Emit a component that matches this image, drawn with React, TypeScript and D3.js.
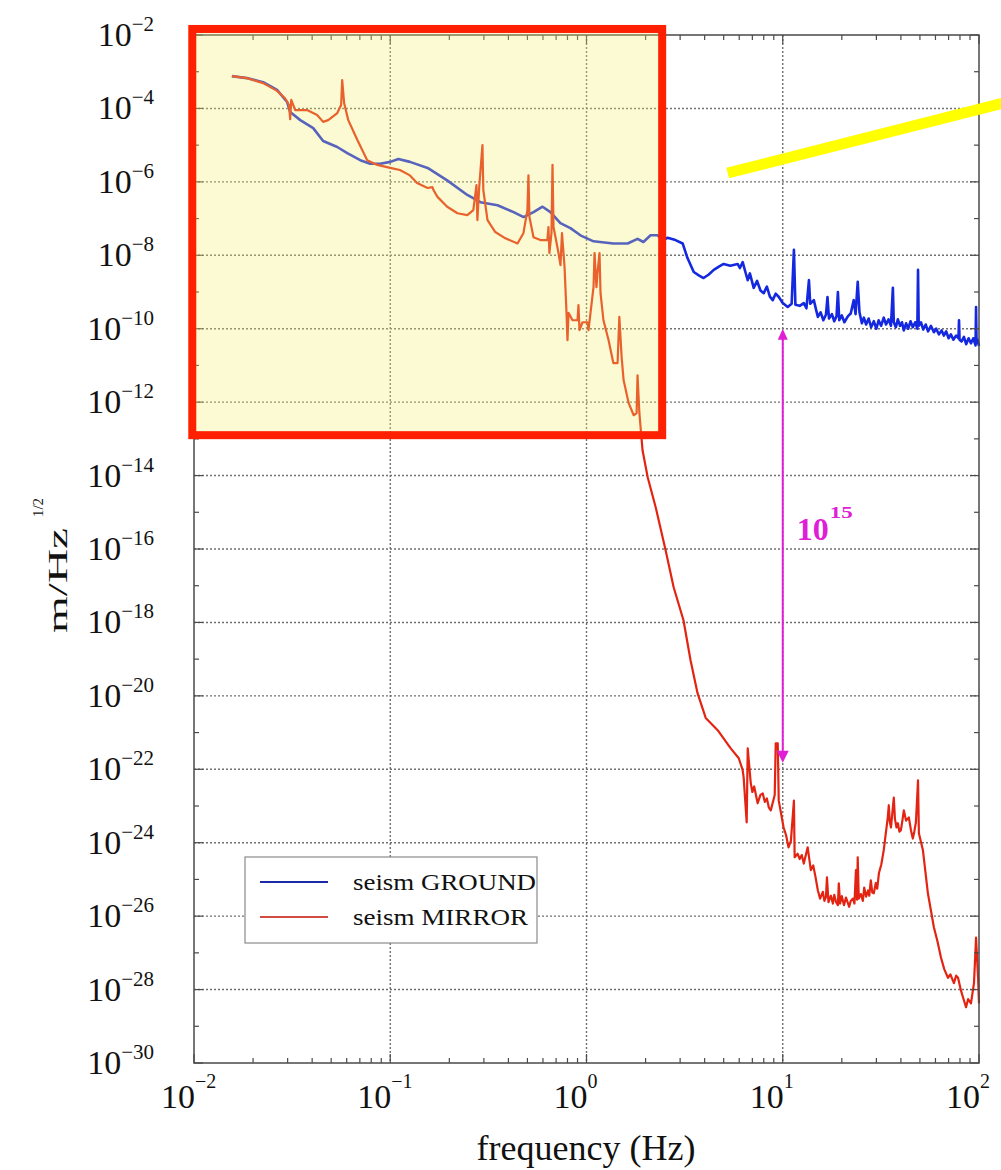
import React from 'react';
import * as d3 from 'd3';

// ---------- data ----------
const xTickExps = [-2, -1, 0, 1, 2];
const yTickExps = [-2, -4, -6, -8, -10, -12, -14, -16, -18, -20, -22, -24, -26, -28, -30];
const xAxisTitle = 'frequency (Hz)';
const yAxisTitle = 'm/Hz';
const yAxisTitleSup = '1/2';
const seriesNames = ['seism GROUND', 'seism MIRROR'];

// [frequency Hz, amplitude m/Hz^1/2]
const groundData: [number, number][] = [
  [0.0156, 7.6e-4], [0.0186, 6.7e-4], [0.0225, 5.2e-4], [0.0265, 3.2e-4], [0.0298, 1.5e-4],
  [0.0309, 8.0e-5], [0.0348, 4.8e-5], [0.0405, 2.9e-5], [0.0455, 1.3e-5], [0.0537, 8.9e-6],
  [0.0604, 6.1e-6], [0.0703, 3.9e-6], [0.0791, 3.1e-6], [0.0889, 3.1e-6], [0.1, 3.5e-6],
  [0.110, 4.2e-6], [0.126, 3.5e-6], [0.155, 2.4e-6], [0.195, 1.1e-6], [0.247, 4.4e-7],
  [0.288, 2.8e-7], [0.352, 2.3e-7], [0.425, 1.5e-7], [0.478, 1.1e-7], [0.537, 1.5e-7],
  [0.597, 2.1e-7], [0.655, 1.5e-7], [0.736, 7.5e-8], [0.828, 5.5e-8], [0.931, 3.5e-8],
  [1.086, 2.4e-8], [1.37, 2.1e-8], [1.62, 2.1e-8], [1.82, 2.8e-8], [1.95, 2.3e-8],
  [2.12, 3.5e-8], [2.30, 3.5e-8], [2.45, 2.6e-8], [2.59, 3.0e-8], [2.84, 2.6e-8], [3.09, 2.1e-8],
  [3.27, 8.4e-9], [3.52, 3.5e-9], [3.75, 2.8e-9], [3.95, 2.4e-9], [4.2, 3.0e-9], [4.45, 4.0e-9],
  [4.75, 5.0e-9], [5.0, 5.8e-9], [5.4, 5.2e-9], [5.89, 5.8e-9], [6.05, 4.5e-9], [6.25, 6.5e-9],
  [6.45, 3.5e-9], [6.63, 2.1e-9], [6.8, 3.2e-9], [7.11, 1.3e-9], [7.4, 2.0e-9], [7.7, 1.1e-9],
  [8.0, 9.3e-10], [8.3, 1.4e-9], [8.6, 7.5e-10], [8.89, 6.0e-10], [9.2, 9.0e-10], [9.55, 7.3e-10],
  [10.0, 5.0e-10], [10.6, 3.9e-10], [11.1, 4.8e-10], [11.4, 1.4e-8], [11.6, 4.5e-10],
  [12.2, 4.2e-10], [12.8, 5.0e-10], [13.2, 3.6e-10], [13.6, 2.1e-9], [13.8, 4.8e-10],
  [14.4, 6.0e-10], [14.8, 3.2e-10], [15.1, 2.1e-10], [15.6, 2.8e-10], [16.1, 1.7e-10],
  [16.6, 2.4e-10], [16.9, 7.3e-10], [17.2, 1.9e-10], [17.8, 2.5e-10], [18.3, 1.6e-10],
  [18.8, 2.2e-10], [19.1, 9.9e-10], [19.4, 1.7e-10], [20.0, 2.3e-10], [20.6, 1.5e-10],
  [21.5, 2.2e-10], [22.2, 2.6e-10], [23.0, 6.0e-10], [23.5, 2.5e-10], [24.1, 1.9e-9],
  [24.6, 2.8e-10], [25.3, 1.4e-10], [25.9, 2.0e-10], [26.6, 1.3e-10], [27.4, 1.9e-10],
  [28.2, 1.1e-10], [29.1, 1.6e-10], [30.0, 1.0e-10], [30.8, 1.7e-10], [31.7, 1.2e-10],
  [32.7, 2.0e-10], [33.6, 1.3e-10], [34.6, 1.8e-10], [35.6, 1.2e-10], [36.4, 1.3e-9],
  [36.8, 1.5e-10], [37.7, 1.1e-10], [38.6, 1.8e-10], [39.6, 1.2e-10], [40.5, 1.5e-10],
  [41.4, 9.0e-11], [42.5, 1.4e-10], [43.6, 1.0e-10], [44.8, 1.6e-10], [46.0, 1.1e-10],
  [47.3, 1.5e-10], [48.5, 1.0e-10], [48.9, 4.0e-9], [49.3, 1.2e-10], [50.6, 1.5e-10],
  [52.0, 9.5e-11], [53.5, 1.3e-10], [55.0, 8.5e-11], [56.9, 1.2e-10], [58.9, 8.0e-11],
  [60.5, 1.0e-10], [62.5, 7.0e-11], [64.5, 9.0e-11], [66.2, 6.5e-11], [68.0, 8.5e-11],
  [70.0, 5.5e-11], [71.9, 7.0e-11], [74.0, 5.0e-11], [76.5, 6.5e-11], [78.6, 5.5e-11],
  [79.1, 1.7e-10], [79.6, 5.0e-11], [81.5, 4.5e-11], [83.8, 6.0e-11], [86.0, 3.8e-11],
  [88.5, 5.5e-11], [91.0, 4.0e-11], [93.5, 5.5e-11], [96.0, 3.5e-11], [96.6, 3.9e-10],
  [97.2, 4.0e-11], [98.5, 5.0e-11], [100, 3.4e-11],
];

const mirrorData: [number, number][] = [
  [0.0156, 7.6e-4], [0.0186, 6.7e-4], [0.0225, 4.9e-4], [0.0265, 3.0e-4], [0.0291, 1.9e-4],
  [0.0305, 1.24e-4], [0.0309, 5.1e-5], [0.0313, 1.7e-4], [0.0328, 9.0e-5], [0.0377, 9.0e-5],
  [0.0424, 6.6e-5], [0.0455, 4.3e-5], [0.0483, 4.8e-5], [0.0537, 7.5e-5], [0.0562, 1.24e-4],
  [0.0569, 5.9e-4], [0.0582, 1.4e-4], [0.0611, 4.8e-5], [0.0679, 1.4e-5], [0.0763, 3.9e-6],
  [0.0859, 2.9e-6], [0.1, 2.4e-6], [0.112, 2.1e-6], [0.126, 1.5e-6], [0.137, 9.3e-7],
  [0.155, 6.8e-7], [0.164, 7.2e-7], [0.166, 6.0e-7], [0.174, 3.9e-7], [0.195, 2.1e-7],
  [0.220, 1.4e-7], [0.247, 1.24e-7], [0.265, 1.7e-7], [0.275, 8.2e-7], [0.278, 9.1e-8],
  [0.284, 7.2e-7], [0.295, 1.0e-5], [0.298, 6.0e-7], [0.313, 9.1e-8], [0.343, 4.3e-8],
  [0.386, 2.9e-8], [0.445, 2.1e-8], [0.477, 4.0e-8], [0.500, 1.7e-7], [0.506, 1.5e-6],
  [0.512, 1.1e-7], [0.537, 3.1e-8], [0.582, 2.6e-8], [0.632, 2.6e-8], [0.640, 5.9e-8],
  [0.647, 1.15e-8], [0.663, 4.0e-8], [0.671, 2.9e-6], [0.679, 5.9e-8], [0.695, 3.1e-8],
  [0.720, 1.15e-8], [0.737, 5.4e-9], [0.750, 4.0e-8], [0.773, 4.8e-9], [0.791, 2.7e-10],
  [0.800, 4.9e-11], [0.810, 2.7e-10], [0.849, 1.7e-10], [0.900, 1.7e-10], [0.910, 4.4e-10],
  [0.921, 9.2e-11], [0.954, 1.5e-10], [1.012, 1.5e-10], [1.024, 9.2e-11], [1.048, 2.7e-10],
  [1.086, 1.36e-9], [1.099, 1.15e-8], [1.124, 1.36e-9], [1.138, 3.3e-9], [1.165, 1.15e-8],
  [1.179, 9.3e-10], [1.22, 1.7e-10], [1.295, 4.9e-11], [1.37, 1.16e-11], [1.44, 1.16e-11],
  [1.47, 2.1e-10], [1.51, 1.7e-11], [1.545, 4.0e-12], [1.64, 9.4e-13], [1.74, 4.4e-13],
  [1.80, 5.0e-13], [1.82, 5.4e-12], [1.86, 5.0e-13], [1.93, 4.9e-14], [2.05, 9.0e-15],
  [2.25, 1.4e-15], [2.53, 9.3e-17], [2.78, 9.1e-18], [3.12, 1.15e-18], [3.39, 9.3e-20],
  [3.68, 1.18e-20], [4.05, 2.5e-21], [4.66, 1.16e-21], [5.43, 3.7e-22], [5.97, 2.0e-22],
  [6.25, 9.4e-23], [6.32, 6.0e-23], [6.55, 3.6e-24], [6.63, 3.7e-22], [6.87, 4.2e-23],
  [7.0, 2.4e-23], [7.15, 3.4e-23], [7.45, 1.19e-23], [7.7, 2.0e-23], [7.91, 2.2e-23],
  [8.1, 1.3e-23], [8.3, 1.6e-23], [8.5, 9.0e-24], [8.69, 7.6e-24],
  [9.10, 2.0e-23], [9.21, 5.1e-22], [9.43, 5.1e-22], [9.54, 1.4e-23], [10.1, 2.6e-24],
  [10.4, 1.6e-24], [10.7, 7.5e-25], [11.0, 1.1e-24], [11.4, 1.4e-23], [11.5, 4.0e-25],
  [11.9, 5.0e-25], [12.2, 3.6e-25], [12.5, 4.6e-25], [12.8, 2.7e-25],
  [13.4, 7.5e-25], [13.9, 1.8e-25], [14.3, 2.4e-25], [14.7, 1.14e-25], [15.1, 5.0e-26],
  [15.5, 3.0e-26], [16.0, 4.6e-26], [16.3, 2.6e-26],
  [16.6, 3.3e-26], [16.8, 1.14e-25], [17.1, 2.4e-26], [17.6, 3.6e-26], [18.0, 2.2e-26],
  [18.3, 3.8e-26], [18.7, 2.4e-26], [19.1, 2.0e-26],
  [19.3, 7.8e-26], [19.6, 2.2e-26], [20.0, 3.5e-26], [20.5, 2.0e-26], [21.0, 3.2e-26],
  [21.4, 2.4e-26], [21.8, 1.8e-26], [22.2, 2.6e-26], [22.8, 3.0e-26], [23.2, 2.2e-26],
  [23.6, 1.8e-25], [23.9, 2.8e-26], [24.1, 4.0e-25], [24.4, 3.0e-26], [25.0, 4.0e-26],
  [25.6, 2.6e-26], [26.0, 6.0e-26], [26.6, 3.4e-26], [27.2, 5.0e-26], [27.6, 3.6e-26],
  [28.1, 9.4e-26], [28.6, 4.4e-26], [29.1, 4.2e-26], [29.8, 8.0e-26], [30.3, 5.6e-26],
  [30.9, 1.47e-25], [31.8, 2.6e-25], [32.7, 6.2e-25], [33.5, 1.8e-24], [34.3, 4.9e-24],
  [34.7, 1.05e-23], [35.1, 3.8e-24],
  [35.6, 2.6e-24], [36.8, 1.7e-23], [37.3, 4.4e-24], [38.0, 2.6e-24], [38.6, 3.4e-24],
  [39.3, 2.0e-24], [40.0, 2.2e-24], [40.7, 4.0e-24], [41.4, 7.6e-24], [42.5, 4.0e-24],
  [43.9, 4.9e-24], [45.0, 2.2e-24], [46.0, 1.3e-24], [46.8, 2.0e-24], [47.7, 3.6e-24],
  [48.9, 5.0e-23], [49.4, 1.8e-24],
  [51.8, 6.2e-25], [54.9, 4.2e-26], [58.9, 5.0e-27], [61.5, 2.0e-27], [64.0, 7.5e-28],
  [66.5, 3.6e-28], [69.5, 2.1e-28], [71.5, 2.6e-28],
  [74.5, 1.5e-28], [76.5, 2.4e-28], [78.2, 2.1e-28], [80.9, 9.5e-29], [83.0, 6.0e-29],
  [85.9, 3.3e-29], [88.0, 5.5e-29], [91.0, 4.2e-29],
  [94.3, 1.5e-28], [96.6, 2.6e-27], [98.9, 2.1e-28], [100, 4.2e-29],
];

// annotation: ratio between ground and mirror at 10 Hz
const ratioFreq = 10;
const ratioTop = 1.0e-10;
const ratioBottom = 1.5e-22;
const ratioBase = '10';
const ratioExp = '15';

// highlighted low-frequency region and pointer line (data coords)
const boxFreq = [0.0098, 2.43];
const boxAmp = [1.46e-2, 1.26e-13];
const pointerFreq = [5.24, 146];
const pointerAmp = [1.74e-6, 1.59e-4];

const SERIF = '"Liberation Serif", "Times New Roman", Times, serif';
const BLUE = '#1428e0';
const RED = '#e42412';
const MAGENTA = '#e01ed6';

export default function App() {
  const W = 1001;
  const H = 1170;
  const left = 194, right = 979, top = 35, bottom = 1063;
  const x = d3.scaleLog().domain([1e-2, 1e2]).range([left, right]);
  const y = d3.scaleLog().domain([1e-2, 1e-30]).range([top, bottom]);
  const line = d3.line<[number, number]>().x((d) => x(d[0])).y((d) => y(d[1]));

  const majorX = xTickExps.map((e) => Math.pow(10, e));
  const minorX: number[] = [];
  for (let e = -2; e < 2; e++) for (let k = 2; k <= 9; k++) minorX.push(k * Math.pow(10, e));
  const yAll = d3.range(-2, -31, -1).map((e) => Math.pow(10, e));
  const gridX = [1e-1, 1, 1e1];
  const gridY = yTickExps.filter((e) => e !== -2 && e !== -30).map((e) => Math.pow(10, e));

  const bx0 = x(boxFreq[0]), bx1 = x(boxFreq[1]);
  const by0 = y(boxAmp[0]), by1 = y(boxAmp[1]);

  const ax = x(ratioFreq);
  const aTop = y(ratioTop);
  const aBot = y(ratioBottom);

  return (
    <svg width={W} height={H} style={{ position: 'absolute', left: 0, top: 0, background: '#fff' }}>
      <rect x={0} y={0} width={W} height={H} fill="#fff" />
      {/* grid */}
      <g stroke="#707070" strokeWidth={1.4} strokeDasharray="2,2">
        {gridX.map((v, i) => (
          <line key={'gx' + i} x1={x(v)} x2={x(v)} y1={top} y2={bottom} />
        ))}
        {gridY.map((v, i) => (
          <line key={'gy' + i} x1={left} x2={right} y1={y(v)} y2={y(v)} />
        ))}
      </g>
      {/* series */}
      <path d={line(groundData) || ''} fill="none" stroke={BLUE} strokeWidth={2.6} strokeLinejoin="round" />
      <path d={line(mirrorData) || ''} fill="none" stroke={RED} strokeWidth={2.2} strokeLinejoin="round" />

      {/* frame */}
      <rect x={left} y={top} width={right - left} height={bottom - top} fill="none" stroke="#4a4a4a" strokeWidth={1.5} />
      <g stroke="#4a4a4a" strokeWidth={1.2}>
        {majorX.map((v, i) => (
          <g key={'mx' + i}>
            <line x1={x(v)} x2={x(v)} y1={bottom} y2={bottom - 9} />
            <line x1={x(v)} x2={x(v)} y1={top} y2={top + 9} />
          </g>
        ))}
        {minorX.map((v, i) => (
          <g key={'nx' + i}>
            <line x1={x(v)} x2={x(v)} y1={bottom} y2={bottom - 5} />
            <line x1={x(v)} x2={x(v)} y1={top} y2={top + 5} />
          </g>
        ))}
        {yAll.map((v, i) => {
          const len = i % 2 === 0 ? 9 : 5;
          return (
            <g key={'ty' + i}>
              <line x1={left} x2={left + len} y1={y(v)} y2={y(v)} />
              <line x1={right} x2={right - len} y1={y(v)} y2={y(v)} />
            </g>
          );
        })}
      </g>

      {/* highlighted region */}
      <rect x={bx0} y={by0} width={bx1 - bx0} height={by1 - by0} fill="#f5ee6a" fillOpacity={0.3} />
      <rect x={bx0} y={by0} width={bx1 - bx0} height={by1 - by0} fill="none" stroke="#fe2000" strokeWidth={8} />

      {/* pointer line */}
      <line
        x1={x(pointerFreq[0])}
        y1={y(pointerAmp[0])}
        x2={x(pointerFreq[1])}
        y2={y(pointerAmp[1])}
        stroke="#ffff00"
        strokeWidth={11}
      />

      {/* ratio arrow */}
      <g>
        <line x1={ax} x2={ax} y1={aTop + 10} y2={aBot - 11} stroke={MAGENTA} strokeWidth={2} />
        <path d={`M${ax},${aTop} L${ax - 5},${aTop + 11} L${ax + 5},${aTop + 11} Z`} fill={MAGENTA} />
        <path d={`M${ax},${aBot} L${ax - 6},${aBot - 12} L${ax + 6},${aBot - 12} Z`} fill={MAGENTA} />
        <text x={ax + 14} y={540} fontFamily={SERIF} fontWeight="bold" fontSize={32} fill={MAGENTA}>
          {ratioBase}
        </text>
        <text x={ax + 47} y={518} fontFamily={SERIF} fontWeight="bold" fontSize={17} fill={MAGENTA} textLength={23} lengthAdjust="spacingAndGlyphs">
          {ratioExp}
        </text>
      </g>

      {/* y tick labels */}
      <g fontFamily={SERIF} fill="#111">
        {yTickExps.map((e, i) => {
          const yy = y(Math.pow(10, e));
          return (
            <text key={'yl' + i} x={154} y={yy + 11} textAnchor="end" fontSize={34}>
              10
              <tspan dy={-15} fontSize={21}>{'\u2212' + Math.abs(e)}</tspan>
            </text>
          );
        })}
      </g>

      {/* x tick labels */}
      <g fontFamily={SERIF} fill="#111">
        {xTickExps.map((e, i) => {
          const xx = x(Math.pow(10, e));
          const lab = e < 0 ? '\u2212' + Math.abs(e) : String(e);
          return (
            <g key={'xl' + i}>
              <text x={xx + 1} y={1108} textAnchor="end" fontSize={34}>10</text>
              <text x={xx + 1} y={1088} textAnchor="start" fontSize={20}>{lab}</text>
            </g>
          );
        })}
        <text x={586} y={1160} textAnchor="middle" fontSize={36}>{xAxisTitle}</text>
      </g>

      {/* y axis title */}
      <g transform="translate(67,565) rotate(-90)" fontFamily={SERIF} fill="#111">
        <text x={-68} y={0} fontSize={27} textLength={105} lengthAdjust="spacingAndGlyphs">{yAxisTitle}</text>
        <text x={48} y={-24} fontSize={14} textLength={19} lengthAdjust="spacingAndGlyphs">{yAxisTitleSup}</text>
      </g>

      {/* legend */}
      <g>
        <rect x={245} y={857} width={292} height={86} fill="#fff" stroke="#8a8a8a" strokeWidth={1.2} />
        <line x1={260} x2={328} y1={882} y2={882} stroke="#1c2aa8" strokeWidth={1.8} />
        <line x1={260} x2={328} y1={917} y2={917} stroke="#d24a44" strokeWidth={2.2} />
        <text x={353} y={890} fontFamily={SERIF} fontSize={23} fill="#111" textLength={183} lengthAdjust="spacingAndGlyphs">
          {seriesNames[0]}
        </text>
        <text x={353} y={925} fontFamily={SERIF} fontSize={23} fill="#111" textLength={175} lengthAdjust="spacingAndGlyphs">
          {seriesNames[1]}
        </text>
      </g>
    </svg>
  );
}
